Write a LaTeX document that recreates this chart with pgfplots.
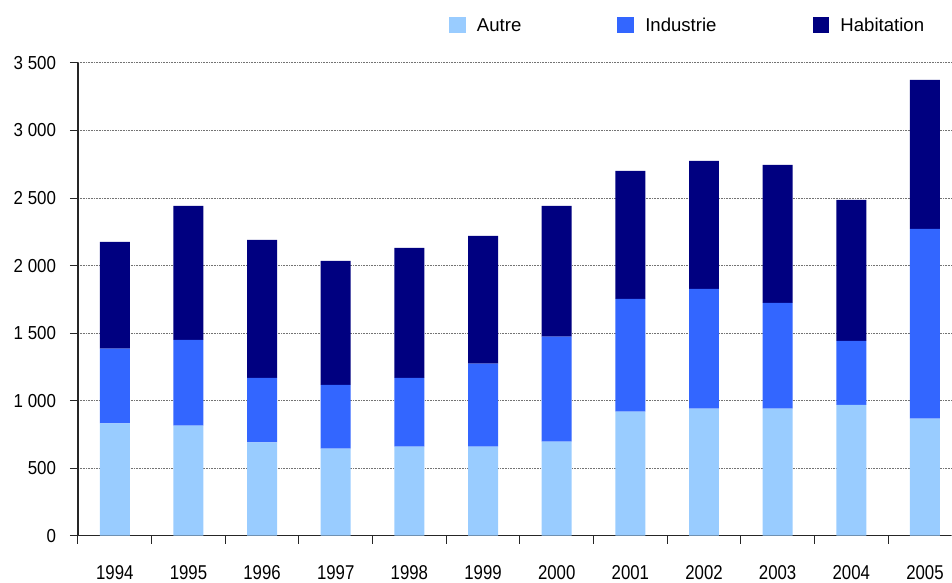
\documentclass[border=0pt]{standalone}
\usepackage{pgfplots}
\pgfplotsset{compat=1.18}
\usepackage{fontspec}
\setmainfont{Liberation Sans}
\usetikzlibrary{calc}
\definecolor{autre}{HTML}{99CCFF}
\definecolor{indus}{HTML}{3366FF}
\definecolor{habit}{HTML}{000080}
\begin{document}
\begin{tikzpicture}
\begin{axis}[
  scale only axis, width=874pt, height=473pt,
  ybar stacked, bar width=30pt,
  xmin=-0.5, xmax=11.359, ymin=0, ymax=3500,
  axis x line*=bottom, axis y line*=left,
  axis line style={black!85, line width=1.2pt},
  xtick={0,...,11},
  xticklabels={1994,1995,1996,1997,1998,1999,2000,2001,2002,2003,2004,2005},
  minor xtick={-0.5,0.5,...,10.5},
  major x tick style={draw=none},
  minor x tick style={black!85, line width=1pt},
  minor tick length=8pt,
  major tick length=8pt,
  tick align=outside,
  ytick={0,500,...,3500},
  yticklabels={0,500,1 000,1 500,2 000,2 500,3 000,3 500},
  ytick style={black!85, line width=1pt},
  ymajorgrids,
  major grid style={black!55, line width=1pt, dash pattern=on 1pt off 0.6pt},
  yticklabel style={font=\fontsize{18.8}{20}\selectfont, xscale=0.9, xshift=-12pt},
  xticklabel style={font=\fontsize{20}{22}\selectfont, xscale=0.84, yshift=-18pt},
  legend columns=-1,
  legend style={at={(axis description cs:0.4245,1.0793)}, anchor=west,
    draw=none, fill=none, inner sep=0pt,
    font=\fontsize{18.6}{20}\selectfont,
    /tikz/every odd column/.append style={column sep=9pt},
    /tikz/every even column/.append style={column sep=94pt}},
  legend image code/.code={\fill[#1] (0pt,-8pt) rectangle (17pt,8pt);},
]
\addplot[fill=autre, draw=none] coordinates {(0,831) (1,814) (2,690) (3,644) (4,659) (5,659) (6,696) (7,918) (8,940) (9,940) (10,969) (11,866)};
\addplot[fill=indus, draw=none] coordinates {(0,553) (1,636) (2,479) (3,473) (4,510) (5,614) (6,777) (7,836) (8,888) (9,784) (10,474) (11,1406)};
\addplot[fill=habit, draw=none] coordinates {(0,791) (1,992) (2,1021) (3,918) (4,962) (5,947) (6,969) (7,947) (8,947) (9,1021) (10,1043) (11,1102)};
\legend{Autre, Industrie, Habitation}
\end{axis}
\path ($(current axis.south west)+(-78pt,-44pt)$) rectangle ($(current axis.north east)+(0pt,63pt)$);
\end{tikzpicture}
\end{document}
